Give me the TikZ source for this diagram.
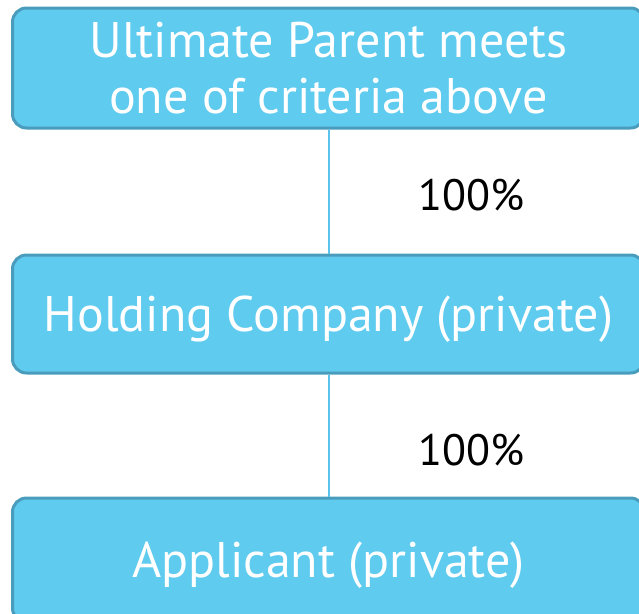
\documentclass[tikz,border=0pt]{standalone}
\usepackage{fontspec}
\setmainfont{PT Sans}
\usetikzlibrary{positioning}
\definecolor{boxfill}{HTML}{5FCBEF}
\definecolor{boxline}{HTML}{4A9CBC}
\definecolor{linkline}{HTML}{5BC4EC}

\begin{document}
\begin{tikzpicture}[x=1pt, y=-1pt,
	box/.style={draw=boxline, line width=3pt, fill=boxfill, rounded corners=14pt,
		minimum width=632pt, text=white, align=center, text depth=0pt,
		font=\fontsize{50pt}{56pt}\selectfont},
	link/.style={draw=linkline, line width=2pt},
	share/.style={font=\fontsize{44pt}{50pt}\selectfont, text=black}]
	% page frame
	\useasboundingbox (0,0) rectangle (639,613);
	\clip (0,0) rectangle (639,613);
	% draw boxes
	\node[box, minimum height=120pt] (parent) at (328.5,68) {Ultimate Parent meets\\one of criteria above};
	\node[box, minimum height=118pt] (holding) at (328.5,314) {Holding Company (private)};
	\node[box, minimum height=124pt] (applicant) at (328.5,560) {Applicant (private)};
	% draw links
	\draw[link] (parent) -- (holding) node[pos=0.53, right=86pt, share] {100\%};
	\draw[link] (holding) -- (applicant) node[pos=0.62, right=86pt, share] {100\%};
\end{tikzpicture}
\end{document}
